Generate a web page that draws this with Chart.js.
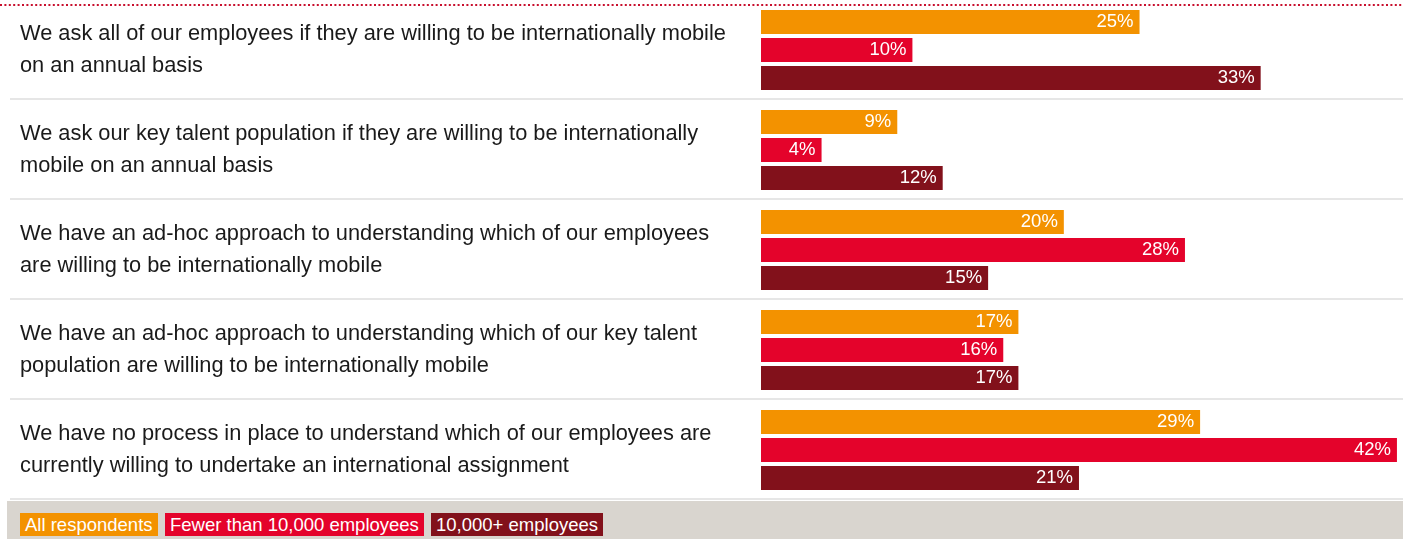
<!DOCTYPE html>
<html>
<head>
<meta charset="utf-8">
<script src="https://cdn.jsdelivr.net/npm/chart.js@4.4.1/dist/chart.umd.min.js"></script>
<style>
  html, body { margin: 0; padding: 0; background: #ffffff; }
  body { width: 1403px; height: 539px; position: relative; overflow: hidden; font-family: "Liberation Sans", Arial, Helvetica, sans-serif; }
  #wrap { position: absolute; left: 0; top: 0; width: 1403px; height: 500px; }
  #legend { position: absolute; left: 7px; top: 501px; width: 1396px; height: 38px; background: #d9d5cf; }
  #legend span { position: absolute; top: 12px; height: 23px; line-height: 23px; color: #fff; font-size: 18.5px; padding: 0 5px; white-space: nowrap; }
</style>
</head>
<body>
<div id="wrap"><canvas id="c" width="1403" height="500"></canvas></div>
<div id="legend"></div>
<script>
const categories = [
  ["We ask all of our employees if they are willing to be internationally mobile", "on an annual basis"],
  ["We ask our key talent population if they are willing to be internationally", "mobile on an annual basis"],
  ["We have an ad-hoc approach to understanding which of our employees", "are willing to be internationally mobile"],
  ["We have an ad-hoc approach to understanding which of our key talent", "population are willing to be internationally mobile"],
  ["We have no process in place to understand which of our employees are", "currently willing to undertake an international assignment"]
];
const seriesNames = ["All respondents", "Fewer than 10,000 employees", "10,000+ employees"];
const allRespondents = [25, 9, 20, 17, 29];
const fewerThan10k = [10, 4, 28, 16, 42];
const over10k = [33, 12, 15, 17, 21];
const colors = ["#f39200", "#e4032b", "#82111b"];

const topDots = {
  id: 'topDots',
  beforeDraw(chart) {
    const ctx = chart.ctx;
    ctx.save();
    ctx.strokeStyle = '#c8102e';
    ctx.lineWidth = 2;
    ctx.setLineDash([2, 2.4]);
    ctx.beginPath();
    ctx.moveTo(0, 5);
    ctx.lineTo(chart.width, 5);
    ctx.stroke();
    ctx.restore();
    const y = chart.scales.y;
    const step = y.getPixelForValue(1) - y.getPixelForValue(0);
    ctx.save();
    ctx.strokeStyle = '#e6e6e6';
    ctx.lineWidth = 2;
    for (let i = 0; i < categories.length; i++) {
      const p = Math.round(y.getPixelForValue(i) + step / 2) - 1;
      ctx.beginPath();
      ctx.moveTo(10, p);
      ctx.lineTo(chart.width, p);
      ctx.stroke();
    }
    ctx.restore();
  }
};

const barLabels = {
  id: 'barLabels',
  afterDatasetsDraw(chart) {
    const ctx = chart.ctx;
    ctx.save();
    ctx.fillStyle = '#ffffff';
    ctx.font = '18.5px "Liberation Sans", Arial, sans-serif';
    ctx.textAlign = 'right';
    ctx.textBaseline = 'middle';
    chart.data.datasets.forEach((ds, di) => {
      const meta = chart.getDatasetMeta(di);
      meta.data.forEach((bar, i) => {
        ctx.fillText(ds.data[i] + '%', bar.x - 6, bar.y);
      });
    });
    ctx.restore();
  }
};

const seriesData = [allRespondents, fewerThan10k, over10k];
const chart = new Chart(document.getElementById('c'), {
  type: 'bar',
  data: {
    labels: categories,
    datasets: seriesNames.map((n, i) => ({
      label: n,
      data: seriesData[i],
      backgroundColor: colors[i],
      borderWidth: 0,
      categoryPercentage: 0.84,
      barPercentage: 0.857
    }))
  },
  options: {
    indexAxis: 'y',
    responsive: false,
    animation: false,
    layout: { padding: { left: 20, right: 0, top: 0, bottom: 0 } },
    plugins: { legend: { display: false }, tooltip: { enabled: false } },
    scales: {
      x: { display: false, min: 0, max: 42.4 },
      y: {
        grid: { display: false },
        border: { display: false },
        afterFit(scale) { scale.width = 741; scale.paddingTop = 0; scale.paddingBottom = 0; },
        ticks: {
          crossAlign: 'far',
          padding: 0,
          color: '#1a1a1a',
          font: { family: '"Liberation Sans", Arial, sans-serif', size: 21.8, lineHeight: 1.45 }
        }
      }
    }
  },
  plugins: [topDots, barLabels]
});

const lg = document.getElementById('legend');
let lx = 13;
chart.data.datasets.forEach((ds) => {
  const s = document.createElement('span');
  s.textContent = ds.label;
  s.style.background = ds.backgroundColor;
  s.style.left = lx + 'px';
  lg.appendChild(s);
  lx += s.offsetWidth + 7;
});
</script>
</body>
</html>
